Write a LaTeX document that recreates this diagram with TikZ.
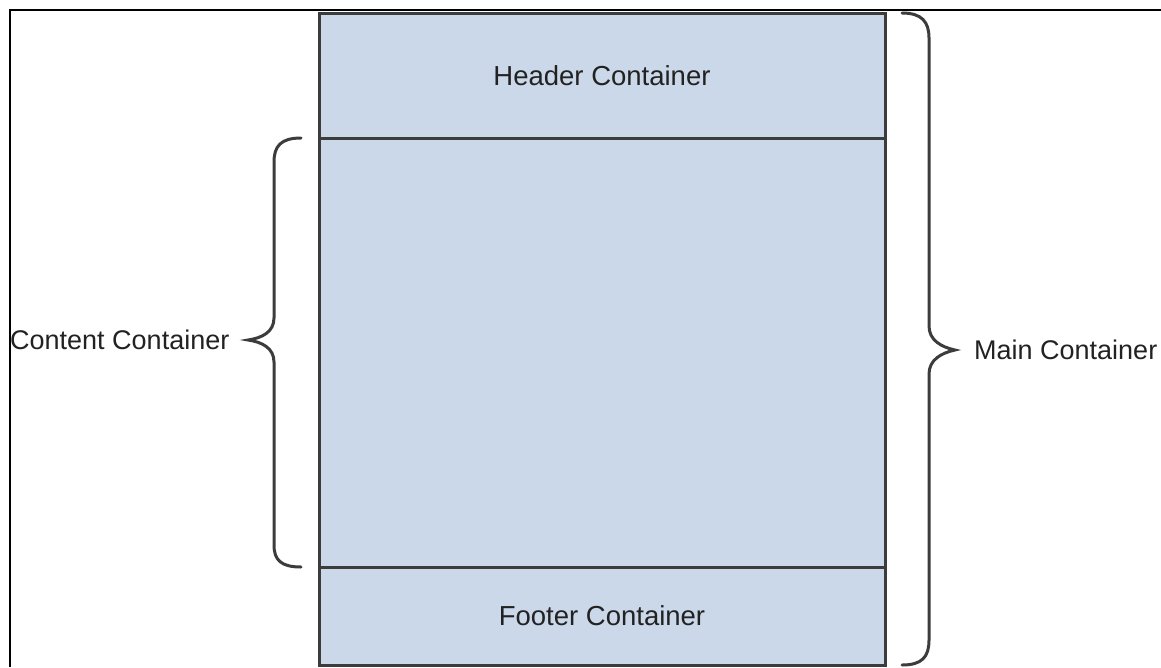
\documentclass[tikz,border=0pt]{standalone}
\usepackage{fontspec}
\setmainfont{Liberation Sans}
\definecolor{panelfill}{HTML}{CBD8EA}
\definecolor{panelline}{HTML}{3C3C3C}
\definecolor{labeltext}{HTML}{222222}
\begin{document}
\begin{tikzpicture}[x=1pt,y=-1pt,
  panel/.style={draw=panelline, fill=panelfill, line width=3pt, inner sep=0pt,
    minimum width=566pt, text=labeltext, font=\fontsize{27.5}{32}\selectfont},
  bracepath/.style={draw=panelline, line width=3pt, line cap=round},
  caption/.style={text=labeltext, font=\fontsize{27}{32}\selectfont, inner sep=0pt}]
  \useasboundingbox (0,0) rectangle (1161,667);
  % frame
  \draw[line width=2pt, black] (9.5,667) -- (9.5,9.5) -- (1161,9.5);
  % stacked containers
  \node[panel, minimum height=429pt] (content) at (602,352.5) {};
  \node[panel, minimum height=125pt] (header) at (602,75.5) {Header Container};
  \node[panel, minimum height=98pt] (footer) at (602,616) {Footer Container};
  % left brace around the content area
  \draw[bracepath] (301,138) .. controls (281,138) and (274,146) .. (274,162)
    -- (274,318) .. controls (274,332) and (262,338) .. (248,340)
    .. controls (262,342) and (274,348) .. (274,362)
    -- (274,545) .. controls (274,560) and (281,567) .. (301,567);
  % right brace around the whole stack
  \draw[bracepath] (902,13) .. controls (922,13) and (929,22) .. (929,38)
    -- (929,326) .. controls (929,340) and (941,347) .. (955,350)
    .. controls (941,353) and (929,360) .. (929,374)
    -- (929,640) .. controls (929,657) and (922,665) .. (902,665);
  \node[caption, anchor=west] (contentlabel) at (10,340) {Content Container};
  \node[caption, anchor=west] (mainlabel) at (974,350) {Main Container};
\end{tikzpicture}
\end{document}
